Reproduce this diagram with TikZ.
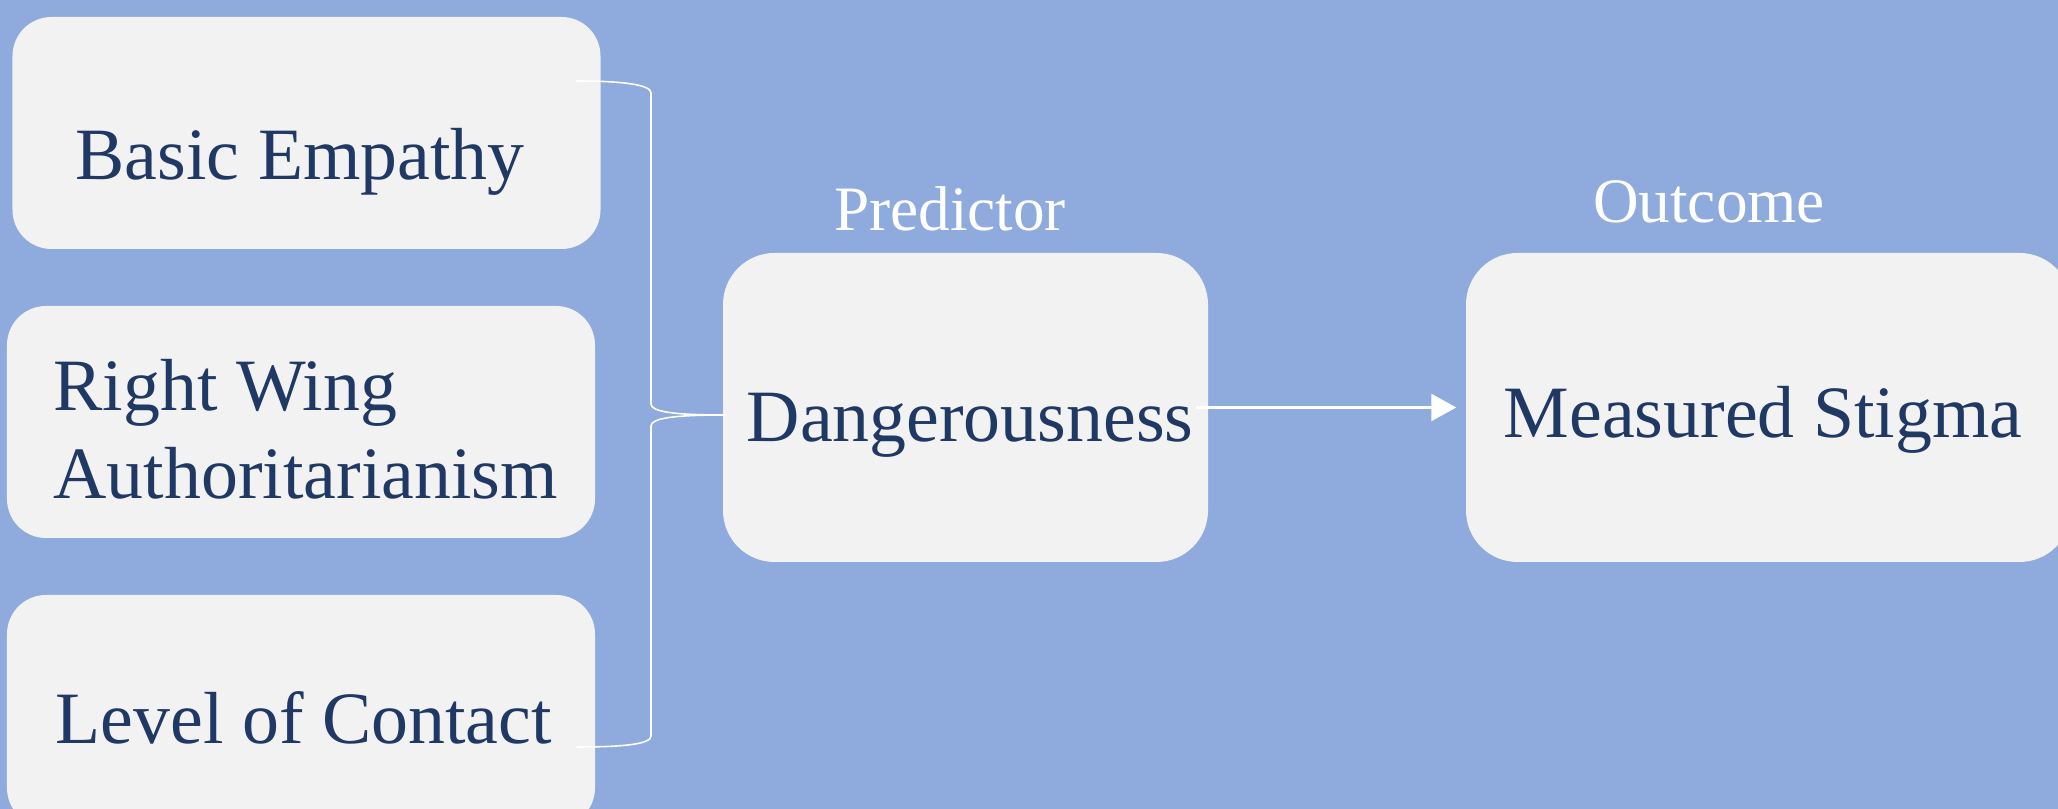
\documentclass[tikz,border=0pt]{standalone}
\usepackage{fontspec}
\setmainfont{Liberation Serif}
\usetikzlibrary{arrows.meta}
\definecolor{bgblue}{HTML}{8FAADC}
\definecolor{boxgray}{HTML}{F2F2F2}
\definecolor{navy}{HTML}{203864}

\begin{document}
\begin{tikzpicture}[
    box/.style={fill=boxgray, minimum width=5.88cm, minimum height=2.32cm, rounded corners=0.39cm},
    bigbox/.style={box, minimum width=4.85cm, minimum height=3.09cm, rounded corners=0.515cm},
    txt/.style={text=navy, font=\fontsize{21}{25.3}\selectfont, inner sep=0pt},
    head/.style={text=white, font=\fontsize{18}{21.6}\selectfont, inner sep=0pt},
  ]
    \useasboundingbox (0,0) rectangle (20.58,8.09);
    \clip (0,0) rectangle (20.58,8.09);
    \fill[bgblue] (0,0) rectangle (20.58,8.09);

    \node[box] (empathy) at (3.065,6.76) {};
    \node[box] (rwa) at (3.01,3.87) {};
    \node[box] (contact) at (3.01,0.98) {};
    \node[bigbox] (danger) at (9.655,4.015) {};
    \node[bigbox, minimum width=6.05cm] (stigma) at (17.685,4.015) {};

    \coordinate (bTop) at ([xshift=-0.25cm, yshift=0.52cm]empathy.east);
    \coordinate (bBot) at ([xshift=-0.19cm, yshift=-0.36cm]contact.east);
    \coordinate (bTip) at ([xshift=0.03cm, yshift=-0.075cm]danger.west);
    \draw[white, line width=0.45pt] (bTop) .. controls (6.25,7.28) and (6.51,7.24) .. (6.51,7.16)
        -- (6.51,4.05) .. controls (6.51,3.97) and (6.75,3.94) .. (bTip)
        .. controls (6.75,3.94) and (6.51,3.91) .. (6.51,3.83)
        -- (6.51,0.73) .. controls (6.51,0.65) and (6.25,0.62) .. (bBot);

    \draw[white, line width=0.6pt, -{Triangle[length=0.25cm, width=0.27cm]}]
        ([xshift=-0.13cm]danger.east) -- ([xshift=-0.09cm]stigma.west);

    \node[txt, anchor=base west] (empathyT) at (0.75,6.29) {Basic Empathy};
    \node[txt, anchor=base west, align=left] (rwaT) at (0.53,3.10) {Right Wing\\Authoritarianism};
    \node[txt, anchor=base west] (contactT) at (0.55,0.65) {Level of Contact};
    \node[txt, anchor=base west] (dangerT) at (7.46,3.67) {Dangerousness};
    \node[txt, anchor=base west] (stigmaT) at (15.03,3.71) {Measured Stigma};
    \node[head, anchor=base] (pred) at (9.50,5.78) {Predictor};
    \node[head, anchor=base] (outc) at (17.09,5.86) {Outcome};
\end{tikzpicture}
\end{document}
